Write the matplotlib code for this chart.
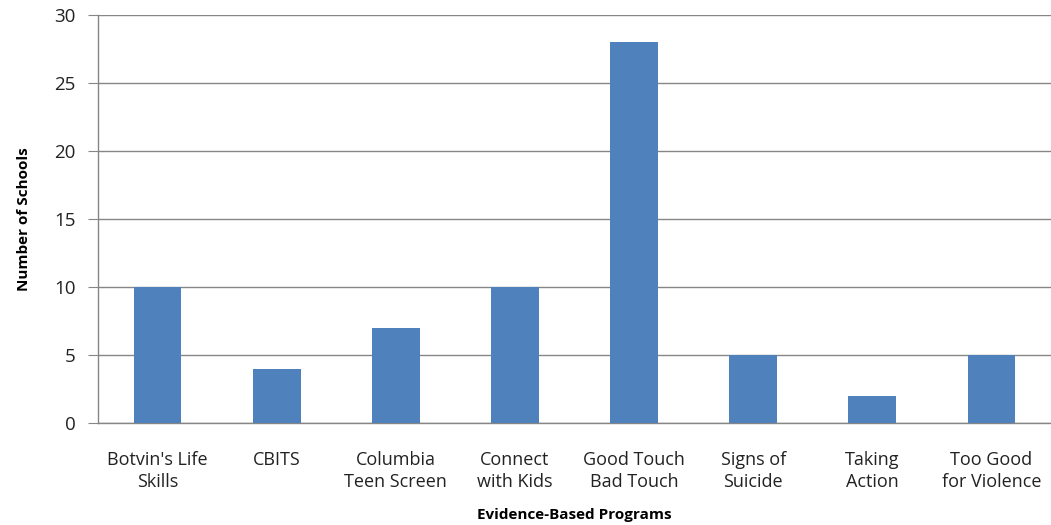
import matplotlib.pyplot as plt

programs = ["Botvin's Life\nSkills", "CBITS", "Columbia\nTeen Screen", "Connect\nwith Kids",
            "Good Touch\nBad Touch", "Signs of\nSuicide", "Taking\nAction", "Too Good\nfor Violence"]
schools = [10, 4, 7, 10, 28, 5, 2, 5]

plt.rcParams['font.family'] = ['Open Sans', 'DejaVu Sans']

fig = plt.figure(figsize=(10.51, 5.25), dpi=100)
ax = fig.add_axes([98 / 1051, 102 / 525, 953 / 1051, 408 / 525])

x = range(len(programs))
ax.bar(x, schools, width=0.4, color="#4F81BD", zorder=3)

ax.set_xlim(-0.5, len(programs) - 0.5)
ax.set_ylim(0, 30)
ax.set_yticks(range(0, 31, 5))
ax.set_xticks(list(x))
ax.set_xticklabels(programs, fontsize=13, color="#222222", linespacing=1.3)
ax.tick_params(axis="y", labelsize=13.5, length=7, color="#868686", labelcolor="#222222", pad=9)
ax.tick_params(axis="x", length=0, pad=20)

ax.grid(axis="y", color="#868686", linewidth=1, zorder=0)
for side in ["top", "right"]:
    ax.spines[side].set_visible(False)
for side in ["left", "bottom"]:
    ax.spines[side].set_color("#868686")
    ax.spines[side].set_linewidth(1)

ax.set_ylabel("Number of Schools", fontsize=11, fontweight="bold", labelpad=17)
ax.set_xlabel("Evidence-Based Programs", fontsize=11, fontweight="bold", labelpad=12)

fig.savefig("out.png", dpi=100)
